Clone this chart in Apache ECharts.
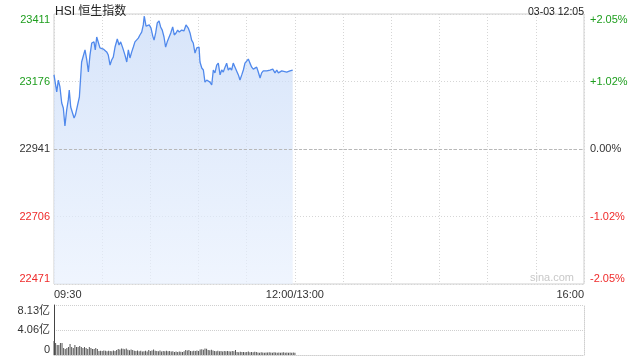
<!DOCTYPE html>
<html><head><meta charset="utf-8">
<script src="https://cdn.jsdelivr.net/npm/echarts@6/dist/echarts.min.js"></script>
<style>html,body{margin:0;padding:0;background:#fff}#c{width:640px;height:360px}</style>
</head><body><div id="c"></div>
<script>
const titleText = 'HSI 恒生指数';
const timeText = '03-03 12:05';
const prevClose = 22941;
const priceTicks = ['22471', '22706', '22941', '23176', '23411'];
const pctTicks = ['-2.05%', '-1.02%', '0.00%', '+1.02%', '+2.05%'];
const volTicks = ['0', '4.06亿', '8.13亿'];
const timeLabels = {0: '09:30', 150: '12:00/13:00', 330: '16:00'};
// minutes after 09:30
const minutes = [0,1.7,2.7,3.7,4.8,5.8,6.8,7.9,8.9,9.5,10.4,11.4,12.5,13.3,14.5,15.8,17.2,18.2,19.3,20.4,21.4,22.4,23.5,24.9,25.7,26.6,27.6,28.6,29.7,30.7,31.8,32.8,33.8,34.9,35.9,36.9,38.0,39.4,40.5,41.5,42.8,44.2,45.3,46.3,47.3,48.4,49.4,50.4,51.5,52.5,53.5,54.6,55.6,56.2,57.3,58.3,59.3,60.4,61.5,62.3,63.3,64.3,65.4,66.4,67.4,68.5,69.5,70.5,71.6,72.7,73.9,74.9,76.0,77.0,78.0,79.5,80.9,82.2,83.6,84.7,85.7,86.7,87.8,88.9,90.3,90.9,92.0,93.0,94.0,95.1,96.1,97.1,98.2,99.2,100.2,101.3,102.3,103.4,104.4,105.4,106.5,107.5,108.5,109.6,110.6,111.6,112.7,113.8,114.8,115.8,116.9,117.9,118.9,120.0,121.0,122.0,123.1,124.1,125.2,126.2,127.2,128.3,129.3,130.3,132.5,134.5,136.2,137.6,138.7,139.7,140.7,141.8,142.8,144.9,146.9,148.6];
const prices = [23199,23140,23181,23157,23101,23084,23021,23077,23112,23146,23087,23084,23049,23059,23056,23122,23244,23244,23286,23251,23209,23268,23310,23314,23286,23331,23334,23293,23293,23289,23293,23279,23268,23233,23251,23261,23296,23324,23303,23314,23293,23268,23244,23286,23258,23279,23296,23314,23310,23327,23338,23348,23373,23404,23369,23369,23373,23362,23334,23320,23345,23380,23387,23366,23355,23331,23296,23314,23320,23345,23366,23338,23345,23355,23348,23355,23352,23373,23362,23345,23320,23310,23275,23293,23296,23244,23223,23216,23174,23181,23181,23174,23164,23216,23206,23233,23240,23199,23216,23209,23226,23240,23216,23223,23216,23240,23226,23223,23199,23181,23199,23216,23240,23244,23254,23240,23226,23219,23223,23226,23209,23188,23206,23213,23213,23216,23219,23206,23216,23206,23202,23213,23209,23209,23213,23216];
// volume per minute, in 亿
const volumes = [2.28,1.96,1.63,1.63,1.96,1.96,1.14,0.98,1.14,1.30,1.79,1.30,1.14,1.63,1.30,1.30,1.47,1.30,1.14,1.30,1.14,0.98,1.30,1.14,0.98,0.98,1.14,0.98,0.65,0.70,
0.65,0.72,0.68,0.62,0.70,0.65,0.60,0.72,0.66,0.80,0.98,0.90,1.05,1.00,0.92,1.05,0.85,0.78,0.90,0.82,
0.70,0.65,0.72,0.60,0.68,0.55,0.62,0.70,0.58,0.82,0.66,0.75,0.88,0.70,0.65,0.60,0.72,0.58,0.66,0.62,0.70,0.60,0.65,0.55,0.60,
0.49,0.57,0.49,0.57,0.52,0.49,0.60,
0.82,0.75,0.80,
0.65,0.60,0.68,0.65,0.72,0.66,
0.88,0.92,0.85,
1.06,1.00,
0.82,0.78,0.85,0.75,
0.65,0.60,0.68,0.62,0.65,0.58,0.66,0.60,0.64,0.62,0.58,0.66,0.60,
0.82,
0.49,0.45,0.52,0.47,0.50,0.44,0.49,0.55,0.46,0.50,0.45,0.52,0.48,
0.41,0.38,0.44,0.40,0.36,0.42,0.39,0.45,0.40,0.37,0.43,0.40,0.38,0.42,0.36,0.40,0.44,0.38,0.41,0.37,0.40,0.35,0.39,0.36];

const FONT = 'Liberation Sans, Arial, Noto Sans CJK SC, sans-serif';
const GREEN = '#1e9e1e', RED = '#ef2b2b', TXT = '#333';
const tickColor = (i) => i > 2 ? GREEN : (i < 2 ? RED : TXT);
const priceData = minutes.map((m, i) => [m, prices[i]]);
const volData = volumes.map((v, i) => [i, v]);

const chart = echarts.init(document.getElementById('c'), null, {renderer: 'canvas'});
chart.setOption({
  animation: false,
  textStyle: {fontFamily: FONT},
  title: [
    {text: titleText, left: 50, top: 1, textStyle: {fontSize: 12, fontWeight: 'normal', color: '#222', fontFamily: FONT}},
    {text: timeText, right: 51, top: 2, textStyle: {fontSize: 10.5, fontWeight: 'normal', color: '#222', fontFamily: FONT}}
  ],
  graphic: [{type: 'text', right: 66, top: 272, style: {text: 'sina.com', fill: '#c8c8c8', font: '11px ' + FONT}}],
  grid: [
    {left: 54, right: 56, top: 14, height: 270, show: true, borderColor: '#cfcfcf', borderWidth: 1, containLabel: false},
    {left: 54, right: 56, top: 305, height: 50, containLabel: false}
  ],
  xAxis: [
    {type: 'value', gridIndex: 0, min: 0, max: 330, interval: 30,
     axisLine: {show: false}, axisTick: {show: false},
     splitLine: {show: true, lineStyle: {color: '#d6d6d6', type: [1, 2], width: 1}},
     axisLabel: {show: true, color: TXT, fontSize: 11, margin: 5, showMinLabel: true, showMaxLabel: true,
       alignMinLabel: 'left', alignMaxLabel: 'right',
       formatter: (v) => timeLabels[Math.round(v)] || ''}},
    {type: 'value', gridIndex: 1, min: 0, max: 330, interval: 30,
     axisLine: {show: true, lineStyle: {color: '#cfcfcf', type: [1, 1]}}, axisTick: {show: false},
     splitLine: {show: false}, axisLabel: {show: false}}
  ],
  yAxis: [
    {type: 'value', gridIndex: 0, min: 22471, max: 23411, interval: 235, position: 'left',
     axisLine: {show: false}, axisTick: {show: false},
     splitLine: {show: true, lineStyle: {color: '#d6d6d6', type: [1, 2], width: 1}},
     axisLabel: {fontSize: 11, margin: 4, color: (v, i) => tickColor(i),
       verticalAlignMinLabel: 'bottom', verticalAlignMaxLabel: 'top',
       formatter: (v, i) => priceTicks[i]}},
    {type: 'value', gridIndex: 0, min: 22471, max: 23411, interval: 235, position: 'right',
     axisLine: {show: false}, axisTick: {show: false}, splitLine: {show: false},
     axisLabel: {fontSize: 11, margin: 6, color: (v, i) => tickColor(i),
       verticalAlignMinLabel: 'bottom', verticalAlignMaxLabel: 'top',
       formatter: (v, i) => pctTicks[i]}},
    {type: 'value', gridIndex: 1, min: 0, max: 8.13, interval: 4.065, position: 'left',
     axisLine: {show: true, lineStyle: {color: '#444', width: 1}}, axisTick: {show: false},
     splitLine: {show: true, lineStyle: {color: '#cfcfcf', type: [1, 1], width: 1}},
     axisLabel: {fontSize: 11, margin: 4, color: TXT,
       verticalAlignMinLabel: 'bottom', verticalAlignMaxLabel: 'top',
       formatter: (v, i) => volTicks[i]}},
    {type: 'value', gridIndex: 1, min: 0, max: 8.13, interval: 4.065, position: 'right',
     axisLine: {show: true, lineStyle: {color: '#cfcfcf', type: [1, 1], width: 1}}, axisTick: {show: false},
     splitLine: {show: false}, axisLabel: {show: false}}
  ],
  series: [
    {type: 'line', xAxisIndex: 0, yAxisIndex: 0, data: priceData, showSymbol: false, symbol: 'none',
     lineStyle: {color: '#5089ec', width: 1.3},
     areaStyle: {origin: 'start', color: new echarts.graphic.LinearGradient(0, 0, 0, 1, [
       {offset: 0, color: 'rgba(198,217,247,1)'}, {offset: 1, color: 'rgba(232,240,253,1)'}])},
     markLine: {silent: true, symbol: 'none', label: {show: false},
       lineStyle: {color: '#b8b8b8', type: [3, 2], width: 1},
       data: [{yAxis: prevClose}]}},
    {type: 'bar', xAxisIndex: 1, yAxisIndex: 2, data: volData, barWidth: 1,
     itemStyle: {color: '#555'}}
  ]
});
</script></body></html>
